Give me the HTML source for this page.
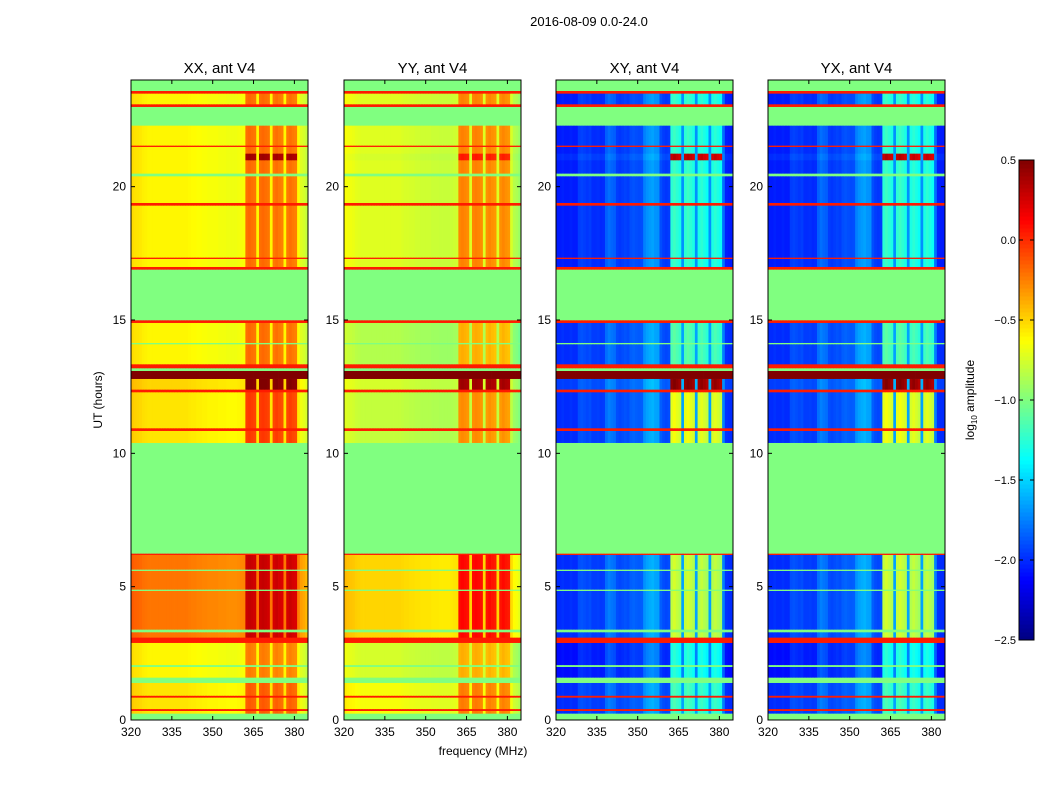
<!DOCTYPE html>
<html><head><meta charset="utf-8"><style>
body{margin:0;background:#fff;}
svg text{font-family:"Liberation Sans",sans-serif;}
</style></head><body>
<svg id="fig" width="1050" height="800" xmlns="http://www.w3.org/2000/svg">
<rect width="1050" height="800" fill="#fff"/>
<text x="589" y="26" font-size="13" text-anchor="middle">2016-08-09 0.0-24.0</text>
<text x="483" y="755" font-size="12" text-anchor="middle">frequency (MHz)</text>
<text transform="translate(102,400) rotate(-90)" font-size="12" text-anchor="middle">UT (hours)</text>
<text transform="translate(974,400) rotate(-90)" font-size="12" text-anchor="middle">log<tspan font-size="8" dy="3">10</tspan><tspan dy="-3"> amplitude</tspan></text>
</svg>
<script>
// ---- data ----
const panelTitles = ["XX, ant V4","YY, ant V4","XY, ant V4","YX, ant V4"];
const xTicks = [320,335,350,365,380];
const yTicks = [0,5,10,15,20];
const cbTicks = [0.5,0.0,-0.5,-1.0,-1.5,-2.0,-2.5];
const channels = [320,321,322,323,324,325,326,327,328,329,330,331,332,333,334,335,336,337,338,339,340,341,342,343,344,345,346,347,348,349,350,351,352,353,354,355,356,357,358,359,360,361,362,363,364,365,366,367,368,369,370,371,372,373,374,375,376,377,378,379,380,381,382,383,384];
const parProfile = [0.08,0.06,0.05,0.04,0.02,0.01,0,0,0,0,0,0,0,0,0,0,0,0,0,0,0,-0.01,-0.02,-0.02,-0.03,-0.03,-0.04,-0.04,-0.05,-0.05,-0.05,-0.05,-0.06,-0.06,-0.06,-0.07,-0.07,-0.07,-0.07,-0.06,-0.05,-0.04,0.2,0.22,0.2,0.18,0.0,0.2,0.22,0.2,0.18,0.0,0.17,0.2,0.17,0.15,0.0,0.17,0.2,0.17,0.15,-0.02,-0.12,-0.15,-0.2];
const crossProfile = [0,0,0.02,0,0,0.02,0,0,0.1,0.12,0.1,0.08,0.1,0.05,0.05,0.06,0.04,0.05,0.2,0.25,0.22,0.2,0.1,0.08,0.1,0.12,0.1,0.15,0.17,0.15,0.14,0.15,0.3,0.35,0.38,0.4,0.36,0.35,0.15,0.1,0.08,0.1,0.7,0.75,0.7,0.65,0.35,0.7,0.75,0.7,0.65,0.35,0.65,0.7,0.65,0.6,0.35,0.65,0.7,0.65,0.6,0.25,0.02,0,0];
const hotMask = [0,0,0,0,0,0,0,0,0,0,0,0,0,0,0,0,0,0,0,0,0,0,0,0,0,0,0,0,0,0,0,0,0,0,0,0,0,0,0,0,0,0,1,1,1,1,0,1,1,1,1,0,1,1,1,1,0,1,1,1,1,0,0,0,0];
// segments: start hour, end hour
const segStart = [0,0.25,0.35,0.42,0.85,0.92,1.4,1.6,2.0,2.07,2.9,3.1,3.3,3.4,4.85,4.9,5.6,5.65,6.2,6.25,10.4,10.85,10.95,12.3,12.4,12.8,13.1,13.2,13.35,14.1,14.15,14.9,15,16.9,17.0,17.3,17.35,19.3,19.4,20.4,20.5,21.0,21.25,21.5,21.55,22.3,23.0,23.1,23.5,23.6];
const segEnd   = [0.25,0.35,0.42,0.85,0.92,1.4,1.6,2.0,2.07,2.9,3.1,3.3,3.4,4.85,4.9,5.6,5.65,6.2,6.25,10.4,10.85,10.95,12.3,12.4,12.8,13.1,13.2,13.35,14.1,14.15,14.9,15,16.9,17.0,17.3,17.35,19.3,19.4,20.4,20.5,21.0,21.25,21.5,21.55,22.3,23.0,23.1,23.5,23.6,24];
const segKind  = ["F","A","L","A","L","A","F","B","F","B","L","C","F","C","F","C","F","C","L","F","D","L","D","L","H","D2","F","L","E","F","E","L","F","L","G","L","G","L","G","F","G","K","G","L","G","F","L","G","L","F"];
const kindBaseXX = {F:-1,L:0.05,D2:0.55,A:-0.55,B:-0.6,C:-0.22,D:-0.55,H:-0.5,E:-0.6,G:-0.6,K:-0.6};
const kindBaseYY = {F:-1,L:0.05,D2:0.55,A:-0.65,B:-0.75,C:-0.5,D:-0.8,H:-0.75,E:-0.85,G:-0.72,K:-0.75};
const kindBaseXY = {F:-1,L:0.05,D2:0.55,A:-2.0,B:-2.1,C:-2.0,D:-2.0,H:-1.95,E:-2.0,G:-2.05,K:-2.0};
const kindHotXX = {F:0,L:0,D2:0,A:0.2,B:0.15,C:0.3,D:0.3,H:0.8,E:0.2,G:0.2,K:0.8};
const kindHotYY = {F:0,L:0,D2:0,A:0.2,B:0.15,C:0.4,D:0.3,H:0.95,E:0.25,G:0.25,K:0.6};
const kindHotXY = {F:0,L:0,D2:0,A:0.1,B:0.1,C:0.5,D:0.6,H:1.7,E:0.15,G:0.1,K:1.6};

// ---- drawing ----
const NS="http://www.w3.org/2000/svg";
const svg=document.getElementById('fig');
const panelX=[131,344,556,768], PW=177, PY0=80, PY1=720;
const fMin=320,fMax=385,tMin=0,tMax=24,vMin=-2.5,vMax=0.5;
function xs(px,f){return px+(f-fMin)/(fMax-fMin)*PW;}
function ys(t){return PY1-(t-tMin)/(tMax-tMin)*(PY1-PY0);}
function jet(v){let x=Math.max(0,Math.min(1,(v-vMin)/(vMax-vMin)));
 const c=k=>Math.round(255*Math.max(0,Math.min(1,1.5-Math.abs(4*x-k))));
 return `rgb(${c(3)},${c(2)},${c(1)})`;}
function el(tag,attrs,parent){const e=document.createElementNS(NS,tag);for(const k in attrs)e.setAttribute(k,attrs[k]);(parent||svg).appendChild(e);return e;}

panelTitles.forEach((title,p)=>{
 const px=panelX[p];
 const g=el('g',{});
 
 
 const base = p===0?kindBaseXX:p===1?kindBaseYY:kindBaseXY;
 const hot = p===0?kindHotXX:p===1?kindHotYY:kindHotXY;
 const prof = p<2?parProfile:crossProfile;
 for(let s=0;s<segStart.length;s++){
  const k=segKind[s], y0=ys(segEnd[s]), y1=ys(segStart[s]);
  for(let c=0;c<channels.length;c++){
   let v=base[k];
   if(k!=='F'&&k!=='L'&&k!=='D2') v+=prof[c]+(hotMask[c]?hot[k]:0);
   const x0=xs(px,channels[c]), x1=xs(px,channels[c]+1);
   const r=el('rect',{x:x0.toFixed(2),y:y0.toFixed(2),width:(x1-x0+0.4).toFixed(2),height:(y1-y0+0.3).toFixed(2),fill:jet(v)},g);
   
   
  }
 }
 const frame=el('rect',{x:px,y:PY0,width:PW,height:PY1-PY0,fill:'none',stroke:'#000','stroke-width':1});
 
 
 const tt=el('text',{x:px+PW/2,y:73,'font-size':15,'text-anchor':'middle'});
 tt.textContent=title;
 
 
 xTicks.forEach(f=>{const x=xs(px,f);
  el('line',{x1:x,x2:x,y1:PY1,y2:PY1-4,stroke:'#000'});
  el('line',{x1:x,x2:x,y1:PY0,y2:PY0+4,stroke:'#000'});
  const t=el('text',{x:x,y:PY1+16,'font-size':12,'text-anchor':'middle'});t.textContent=f;
  
  
 });
 yTicks.forEach(h=>{const y=ys(h);
  el('line',{x1:px,x2:px+4,y1:y,y2:y,stroke:'#000'});
  el('line',{x1:px+PW,x2:px+PW-4,y1:y,y2:y,stroke:'#000'});
  const t=el('text',{x:px-5,y:y+4,'font-size':12,'text-anchor':'end'});t.textContent=h;
  
  
 });
});

// colorbar
const cbX=1019,cbW=15,cbY0=160,cbY1=640;
const cb=el('g',{});


for(let i=0;i<120;i++){const v=vMin+(i+0.5)/120*(vMax-vMin);
 const y=cbY1-(i+1)/120*(cbY1-cbY0);
 el('rect',{x:cbX,y:y.toFixed(2),width:cbW,height:((cbY1-cbY0)/120+0.5).toFixed(2),fill:jet(v)},cb);}
el('rect',{x:cbX,y:cbY0,width:cbW,height:cbY1-cbY0,fill:'none',stroke:'#000'},cb);
cbTicks.forEach(v=>{const y=cbY1-(v-vMin)/(vMax-vMin)*(cbY1-cbY0);
 el('line',{x1:cbX,x2:cbX+4,y1:y,y2:y,stroke:'#000'},cb);
 el('line',{x1:cbX+cbW,x2:cbX+cbW-4,y1:y,y2:y,stroke:'#000'},cb);
 const t=el('text',{x:cbX-3,y:y+4,'font-size':11,'text-anchor':'end'},cb);
 t.textContent=(v<0?'\u2212':'')+Math.abs(v).toFixed(1);
 
 
});
</script>
</body></html>
